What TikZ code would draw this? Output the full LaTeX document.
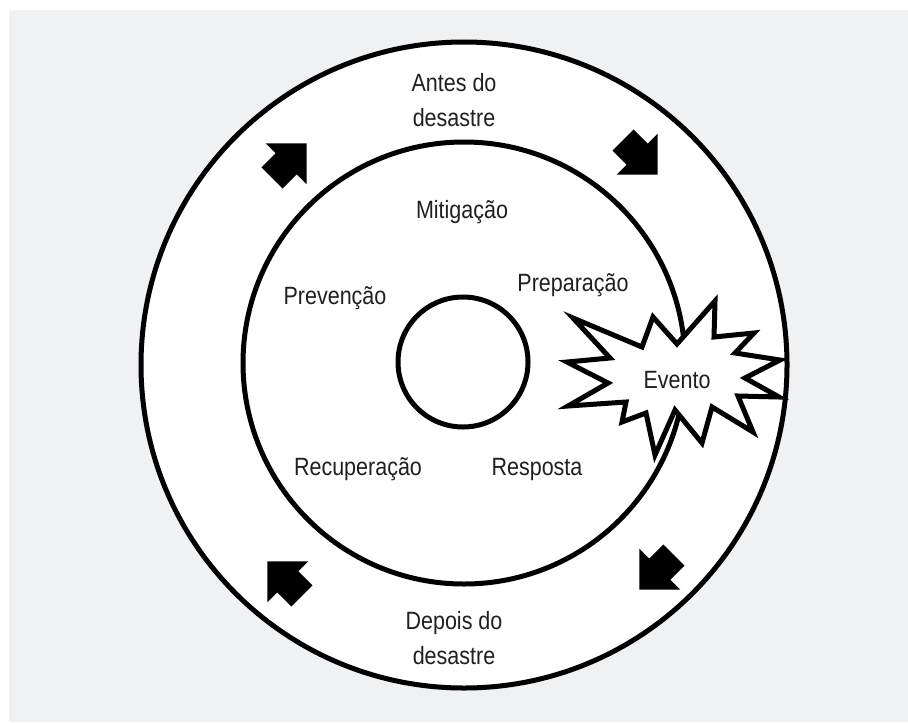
\documentclass[tikz,border=0pt]{standalone}
\usepackage{fontspec}
\setmainfont{Liberation Sans}[FakeStretch=0.86]
\usepackage{tikz}
\usetikzlibrary{positioning}
\definecolor{colpanel}{HTML}{F0F1F3}
\definecolor{coltext}{HTML}{231F20}
\newcommand{\cyclearrow}[3]{%
  \fill[black, shift={(#1,#2)}, rotate=#3]
    (-24,-15) -- (-4,-15) -- (-4,-29) -- (25,0) -- (-4,29) -- (-4,15) -- (-24,15) -- cycle;}

\begin{document}
\begin{tikzpicture}[x=0.5pt, y=-0.5pt,
    ring/.style={draw=black, line width=2.5pt},
    phase/.style={font=\fontsize{12.5}{17.5}\selectfont, text=coltext, align=center, inner sep=0pt}]
  \useasboundingbox (0,0) rectangle (908,722);
  \fill[colpanel] (9,10) rectangle (908,722);
  % circles
  \fill[white] (464,365) circle[radius=323];
  \draw[ring] (464,365) circle[radius=323];
  \draw[ring] (464,363) circle[radius=221];
  \draw[ring] (463,362) circle[radius=65];
  % clockwise arrows
  \cyclearrow{289}{161}{45}
  \cyclearrow{640}{157}{-45}
  \cyclearrow{657}{572}{-135}
  \cyclearrow{285}{579}{135}
  % the event
  \filldraw[ring, fill=white, line join=miter]
    (573,318) -- (642,347) -- (653,317) -- (677,344) -- (715,301) -- (714,337)
    -- (754,333) -- (735,353) -- (780,360) -- (745,378) -- (779,397) -- (738,396)
    -- (753,432) -- (712,407) -- (702,443) -- (675,410) -- (655,455) -- (646,413)
    -- (622,422) -- (626,402) -- (568,406) -- (608,383) -- (567,362) -- (610,358)
    -- cycle;
  % labels
  \node[phase] (antes) at (454,100) {Antes do\\desastre};
  \node[phase] (mitig) at (462,212) {Mitigação};
  \node[phase] (preven) at (335,298) {Prevenção};
  \node[phase] (prepar) at (573,285) {Preparação};
  \node[phase] (evento) at (677,380) {Evento};
  \node[phase] (recup) at (358,469) {Recuperação};
  \node[phase] (resp) at (537,469) {Resposta};
  \node[phase] (depois) at (454,638) {Depois do\\desastre};
\end{tikzpicture}
\end{document}
